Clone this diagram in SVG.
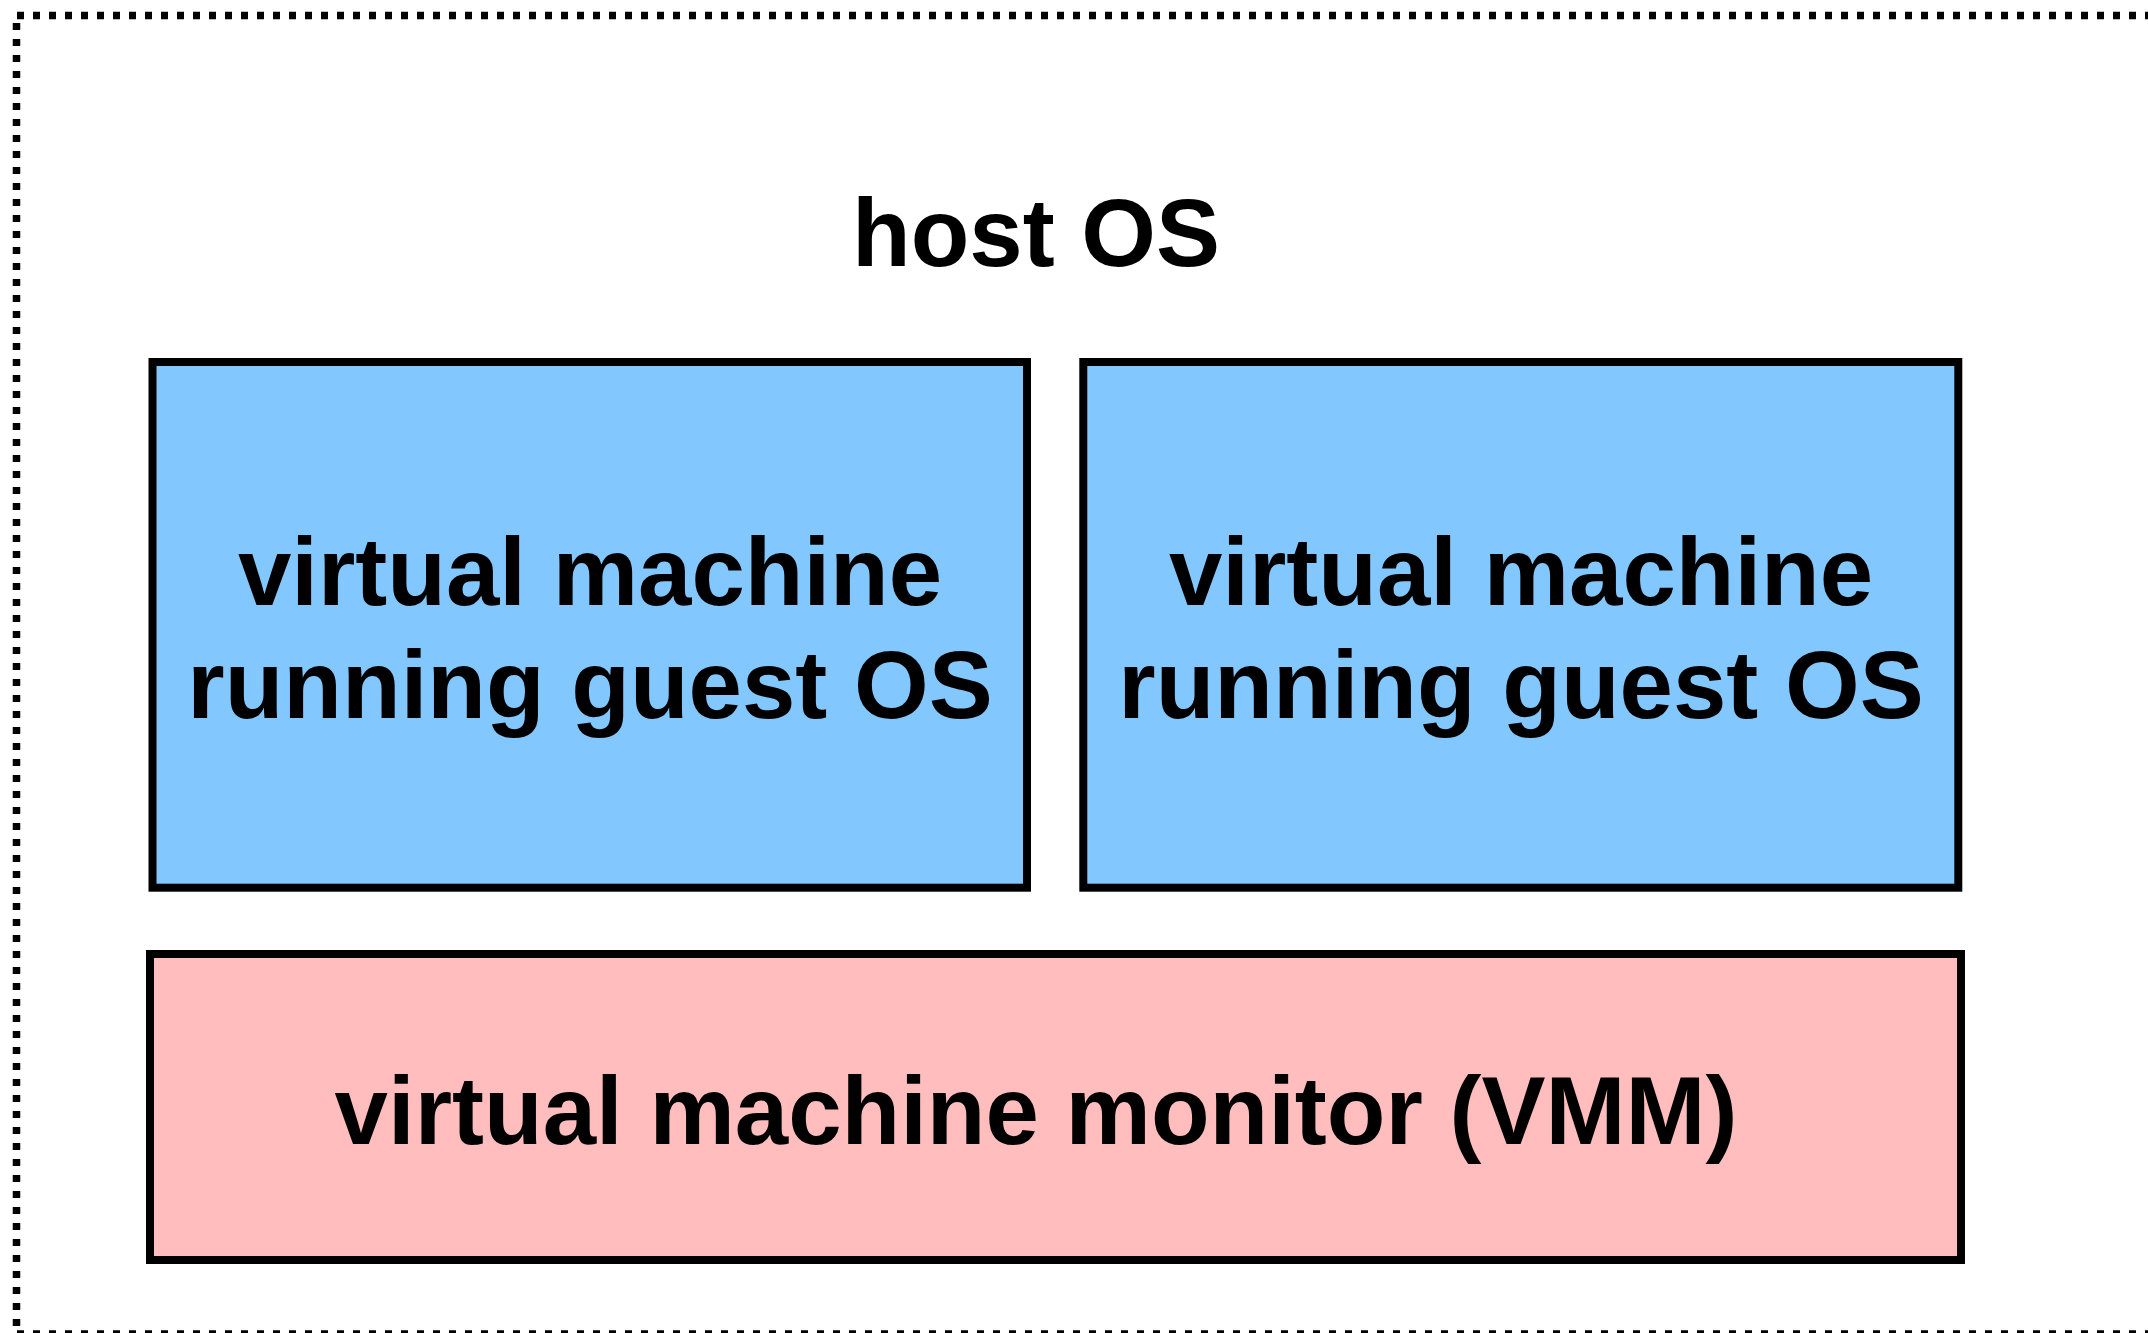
<svg xmlns="http://www.w3.org/2000/svg" width="2148" height="1333" viewBox="0 0 2148 1333">
<style>
.border{fill:none;stroke:#000;stroke-width:7.5;stroke-dasharray:7 9}
.box{stroke:#000;stroke-width:8}
.vm{fill:#82C8FF}
.vmm{fill:#FFBDBD}
text{font-family:"Liberation Sans",Arial,Helvetica,sans-serif;font-weight:bold;font-size:96px;fill:#000;text-anchor:middle}
</style>
<g id="host">
<line class="border" x1="17" y1="15.5" x2="2160" y2="15.5"/>
<line class="border" x1="16.5" y1="23" x2="16.5" y2="1333"/>
<line class="border" x1="17" y1="1334" x2="2160" y2="1334"/>
<text x="1036" y="266">host OS</text>
</g>
<g id="vm1">
<rect class="box vm" x="152.5" y="362" width="874.5" height="525.7"/>
<text x="590" y="605">virtual machine</text>
<text x="590" y="718">running guest OS</text>
</g>
<g id="vm2">
<rect class="box vm" x="1083.3" y="362" width="875" height="525.7"/>
<text x="1521" y="605">virtual machine</text>
<text x="1521" y="718">running guest OS</text>
</g>
<g id="vmm">
<rect class="box vmm" x="150" y="954" width="1811" height="306"/>
<text x="1036" y="1144">virtual machine monitor (VMM)</text>
</g>
<g id="connectors"/>
</svg>
